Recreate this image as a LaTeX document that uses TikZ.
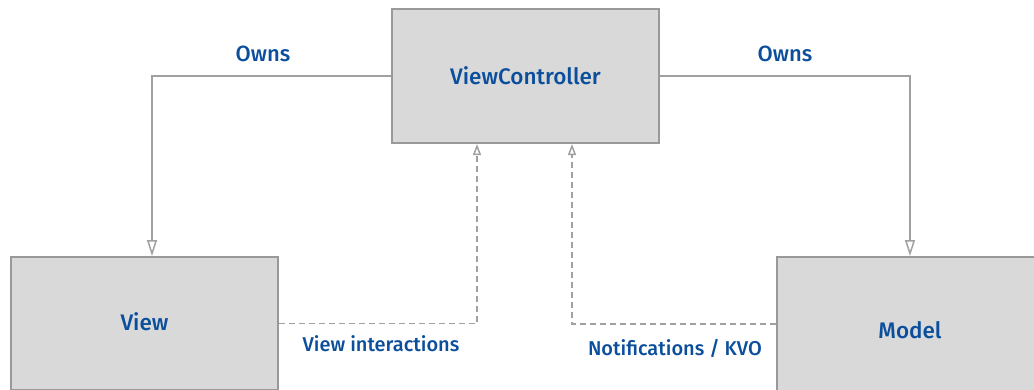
\documentclass[tikz,border=0pt]{standalone}
\usepackage{fontspec}
\setmainfont{Fira Sans Medium}
\usetikzlibrary{arrows.meta}
\definecolor{boxfill}{HTML}{D9D9D9}
\definecolor{boxline}{HTML}{999999}
\definecolor{linecol}{HTML}{A0A0A0}
\definecolor{txt}{HTML}{0B4F9C}
\tikzset{
  block/.style={draw=boxline, fill=boxfill, line width=2pt, inner sep=0pt},
  boxtxt/.style={text=txt, font=\fontsize{22.5}{26}\selectfont, inner sep=0pt},
  ownlbl/.style={text=txt, font=\fontsize{22}{26}\selectfont, inner sep=0pt},
  lbl/.style={text=txt, font=\fontsize{20}{24}\selectfont, inner sep=0pt},
  owns/.style={draw=linecol, line width=1.5pt, -{Triangle[open, length=16pt, width=10pt]}},
  uses/.style={draw=linecol, line width=1.5pt, dash pattern=on 6pt off 4pt, -{Triangle[open, length=11pt, width=8pt]}}
}
\begin{document}
\begin{tikzpicture}[x=1pt, y=-1pt]
\useasboundingbox (0,0) rectangle (1034,389);
\clip (0,0) rectangle (1034,389);
\node[block, minimum width=267pt, minimum height=134pt] (vc) at (525.5,76) {};
\node[block, minimum width=267pt, minimum height=133pt] (view) at (144.5,323.5) {};
\node[block, minimum width=266pt, minimum height=146pt] (model) at (910,330) {};
\node[boxtxt] (vct) at (525.5,76) {ViewController};
\node[boxtxt] (viewt) at (144.5,322) {View};
\node[boxtxt] (modelt) at (910,330) {Model};
\draw[owns] (vc.west) -| ([xshift=7.5pt]view.north);
\draw[owns] (vc.east) -| (model.north);
\draw[uses] (view.east) -| ([xshift=-48.5pt]vc.south);
\draw[uses] ([yshift=6pt]model.west) -| ([xshift=46.5pt]vc.south);
\node[ownlbl] (o1) at (263,54) {Owns};
\node[ownlbl] (o2) at (785,54) {Owns};
\node[lbl] (vi) at (381,344) {View interactions};
\node[lbl] (nk) at (675,348) {Notifications / KVO};
\end{tikzpicture}
\end{document}
